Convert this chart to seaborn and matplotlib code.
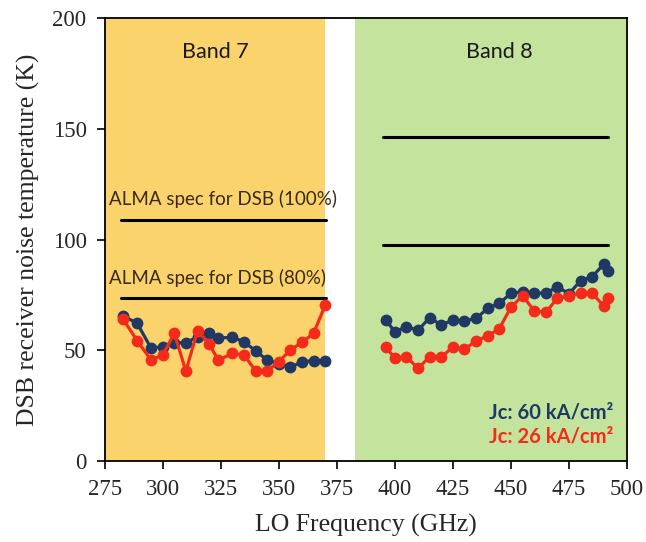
import numpy as np
import pandas as pd
import matplotlib
matplotlib.use("Agg")
import matplotlib.pyplot as plt
import seaborn as sns

# LO frequencies (GHz)
band7_freq = [283, 289, 295, 300, 305, 310, 315, 320, 324, 330, 335, 340, 345, 350, 355, 360, 365, 370]
band8_freq = [396, 400, 405, 410, 415, 420, 425, 430, 435, 440, 445, 450, 455, 460, 465, 470, 475, 480, 485, 490, 492]

# DSB receiver noise temperature (K)
band7_jc60 = [65.5, 62.2, 50.9, 51.6, 53.4, 53.4, 56.1, 57.9, 55.6, 55.8, 53.9, 49.7, 45.6, 44.0, 42.3, 44.8, 45.3, 45.3]
band7_jc26 = [64.0, 54.3, 45.6, 47.9, 57.6, 40.6, 58.8, 52.8, 45.5, 48.6, 47.9, 40.8, 40.6, 44.8, 50.1, 53.6, 57.6, 70.4]
band8_jc60 = [63.7, 58.4, 60.6, 59.1, 64.7, 61.4, 63.7, 63.3, 64.4, 68.9, 71.2, 75.7, 76.4, 76.0, 75.7, 78.7, 75.5, 81.4, 83.2, 88.9, 85.9]
band8_jc26 = [51.6, 46.4, 47.1, 41.8, 47.1, 46.8, 51.6, 50.4, 54.3, 56.4, 59.8, 69.4, 74.6, 67.9, 67.1, 73.5, 74.5, 76.0, 75.7, 70.0, 73.5]

# ALMA specs (K) and their frequency spans
band7_spec = [109.0, 73.4]
band8_spec = [146.1, 97.5]
band7_spec_span = [282, 370.5]
band8_spec_span = [395, 492]

band7_range = [275, 370]
band8_range = [383, 499.5]

BLUE = "#1F3864"
RED = "#F42A1A"

sns.set_style("ticks")
plt.rcParams["font.family"] = ["Liberation Serif", "DejaVu Serif"]

rows = []
for band, freq, s60, s26 in [("Band 7", band7_freq, band7_jc60, band7_jc26),
                             ("Band 8", band8_freq, band8_jc60, band8_jc26)]:
    for f, a, b in zip(freq, s60, s26):
        rows.append({"band": band, "freq": f, "series": "Jc: 60 kA/cm²", "temp": a})
        rows.append({"band": band, "freq": f, "series": "Jc: 26 kA/cm²", "temp": b})
df = pd.DataFrame(rows)

fig, ax = plt.subplots(figsize=(6.46, 5.42), dpi=100)
fig.subplots_adjust(left=0.162, right=0.9706, top=0.9668, bottom=0.1494)

# band backgrounds
ax.axvspan(*band7_range, color="#FAD36C", zorder=0, lw=0)
ax.axvspan(*band8_range, color="#C4E39C", zorder=0, lw=0)

# spec lines
for v in band7_spec:
    ax.plot(band7_spec_span, [v, v], color="black", lw=2.2, zorder=2)
for v in band8_spec:
    ax.plot(band8_spec_span, [v, v], color="black", lw=2.2, zorder=2)

# measured data, plotted per band so the gap is not bridged
for band in ["Band 7", "Band 8"]:
    for series, col in [("Jc: 60 kA/cm²", BLUE), ("Jc: 26 kA/cm²", RED)]:
        sub = df[(df["band"] == band) & (df["series"] == series)]
        sns.lineplot(data=sub, x="freq", y="temp", ax=ax, color=col,
                     marker="o", markersize=8.5, markeredgewidth=0,
                     lw=2.3, estimator=None, sort=False, zorder=3)

sans = ["Lato", "DejaVu Sans"]
ax.text(322.5, 184.5, "Band 7", ha="center", va="center", fontsize=15.5, family=sans, color="#1a1a1a")
ax.text(445, 184.5, "Band 8", ha="center", va="center", fontsize=15.5, family=sans, color="#1a1a1a")
ax.text(277, 118.5, "ALMA spec for DSB (100%)", ha="left", va="center", fontsize=13.5, family=sans, color="#3a2a10")
ax.text(277, 82.5, "ALMA spec for DSB (80%)", ha="left", va="center", fontsize=13.5, family=sans, color="#3a2a10")
ax.text(494, 22, "Jc: 60 kA/cm²", ha="right", va="center", fontsize=14.5, family=sans,
        fontweight="bold", color=BLUE)
ax.text(494, 11, "Jc: 26 kA/cm²", ha="right", va="center", fontsize=14.5, family=sans,
        fontweight="bold", color=RED)

ax.set_xlim(275, 500)
ax.set_ylim(0, 200)
ax.set_xticks(np.arange(275, 501, 25))
ax.set_yticks(np.arange(0, 201, 50))
ax.tick_params(labelsize=16.5, direction="out", length=6, width=1.2, color="black", pad=7)
for sp in ax.spines.values():
    sp.set_linewidth(1.3)
    sp.set_color("black")
    sp.set_zorder(4)
ax.set_xlabel("LO Frequency (GHz)", fontsize=18.5, labelpad=10)
ax.set_ylabel("DSB receiver noise temperature (K)", fontsize=18.5, labelpad=9)

fig.savefig("out.png", dpi=100)
